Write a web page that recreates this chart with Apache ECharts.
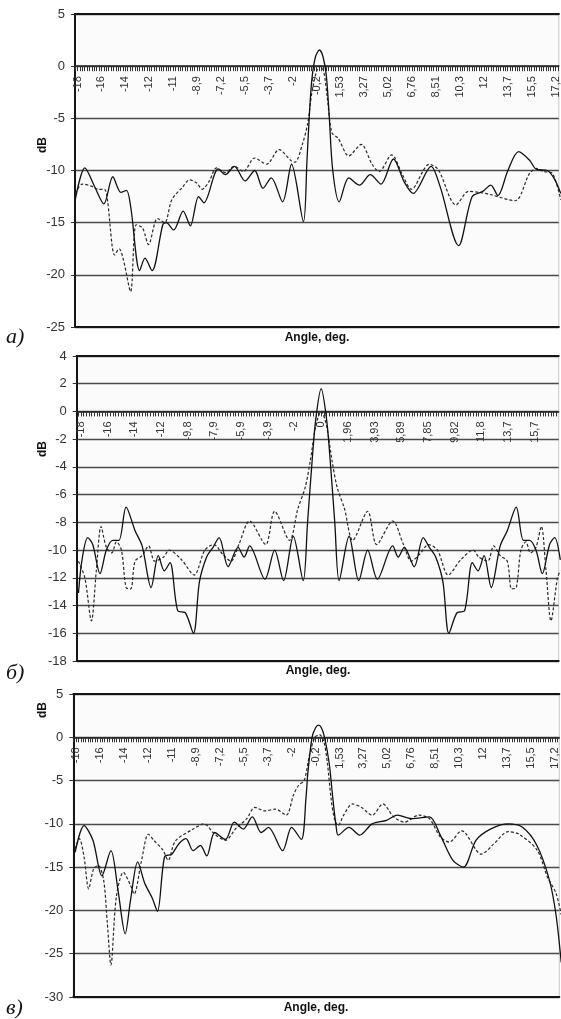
<!DOCTYPE html>
<html><head><meta charset="utf-8">
<script src="https://cdn.jsdelivr.net/npm/echarts@6/dist/echarts.min.js"></script>
<style>html,body{margin:0;padding:0;background:#fff;overflow:hidden}#c{width:561px;height:1019px}</style>
</head><body><div id="c"></div>
<script>
// ---- tick labels (angle positions, degrees) ----
const ticksAC = [-17.665,-15.92,-14.175,-12.43,-10.685,-8.94,-7.195,-5.45,-3.705,-1.96,-0.215,1.53,3.275,5.02,6.765,8.51,10.255,12.0,13.745,15.49,17.235];
const labelsAC = ["-18","-16","-14","-12","-11","-8,9","-7,2","-5,5","-3,7","-2","-0,2","1,53","3,27","5,02","6,76","8,51","10,3","12","13,7","15,5","17,2"];
const ticksB = [-17.667,-15.704,-13.741,-11.778,-9.815,-7.852,-5.889,-3.926,-1.963,0,1.963,3.926,5.889,7.852,9.815,11.778,13.741,15.704];
const labelsB = ["-18","-16","-14","-12","-9,8","-7,9","-5,9","-3,9","-2","0","1,96","3,93","5,89","7,85","9,82","11,8","13,7","15,7"];

// ---- panel а) : [angle deg, dB] ----
const aSolid = [[-17.83,-12.8],[-17.13,-9.75],[-16.4,-11.6],[-15.74,-13.2],[-15.09,-10.6],[-14.5,-12.1],[-14.09,-11.9],[-13.78,-13.5],[-13.13,-19.6],[-12.74,-18.4],[-12.22,-19.6],[-11.44,-15.2],[-11.18,-15.0],[-10.65,-15.7],[-9.95,-13.9],[-9.43,-15.3],[-8.83,-12.5],[-8.44,-13.1],[-7.39,-9.85],[-6.87,-10.4],[-6.21,-9.6],[-5.43,-11.0],[-4.73,-10.0],[-4.13,-11.7],[-3.52,-10.7],[-2.69,-13.0],[-2.04,-9.4],[-1.17,-14.9],[-0.91,-9.0],[-0.73,-4.5],[-0.55,-1.2],[-0.29,0.9],[0,1.55],[0.26,0.9],[0.5,-0.9],[0.7,-4.5],[0.97,-10],[1.44,-13],[2.14,-10.7],[2.92,-11.4],[3.71,-10.4],[4.49,-11.3],[5.40,-8.9],[6.19,-11.1],[6.84,-12.2],[8.15,-9.6],[8.80,-11.5],[10.16,-17.2],[11.15,-12.5],[11.93,-12.0],[12.51,-11.4],[13.03,-12.4],[13.76,-10.0],[14.54,-8.2],[15.33,-9.0],[15.85,-9.9],[16.63,-10.0],[17.15,-10.8],[17.62,-12.2]];
const aDash = [[-17.83,-12.2],[-17.31,-11.3],[-16.66,-11.5],[-16.14,-11.8],[-15.69,-11.8],[-14.96,-18.1],[-14.62,-17.5],[-14.31,-18.6],[-13.79,-21.6],[-13.39,-15.2],[-12.92,-15.5],[-12.48,-17.1],[-11.83,-14.6],[-11.31,-15.0],[-10.78,-12.8],[-10.0,-11.6],[-9.48,-10.9],[-8.96,-11.2],[-8.56,-11.8],[-8.04,-11.0],[-7.52,-9.75],[-6.87,-10.2],[-6.21,-9.6],[-5.56,-10.1],[-4.73,-8.8],[-3.86,-9.4],[-2.95,-8.0],[-2.04,-9.1],[-1.78,-9.2],[-1.25,-7.5],[-0.86,-5.5],[-0.55,-2.5],[-0.21,-0.5],[0.05,0],[0.31,-0.5],[0.57,-3],[0.91,-6.4],[1.36,-6.9],[2.14,-8.6],[3.05,-7.5],[3.84,-9.4],[4.36,-10.1],[5.27,-8.5],[6.06,-10.4],[6.71,-11.8],[8.02,-9.4],[8.67,-9.9],[9.97,-13.3],[10.89,-12.0],[11.67,-12.1],[12.45,-12.3],[14.28,-12.9],[15.33,-10.3],[15.85,-9.8],[16.37,-10.1],[17.02,-10.3],[17.62,-12.8]];

// ---- panel б) ----
const bSolid = [[-17.84,-13.1],[-17.58,-10.7],[-17.16,-9.1],[-16.79,-9.6],[-16.26,-11.7],[-15.79,-10.0],[-15.32,-9.3],[-14.87,-9.3],[-14.34,-6.9],[-13.68,-8.6],[-13.16,-9.7],[-12.5,-12.7],[-11.97,-10.4],[-11.53,-11.5],[-11.11,-10.9],[-10.53,-14.4],[-10.0,-14.5],[-9.39,-16.0],[-8.95,-12.3],[-8.42,-10.5],[-7.95,-9.8],[-7.5,-9.1],[-6.84,-11.2],[-6.11,-9.8],[-5.66,-10.5],[-5.26,-9.7],[-4.13,-12.1],[-3.42,-10.0],[-2.76,-12.2],[-2.05,-9.0],[-1.32,-12.2],[-1.0,-8.0],[-0.66,-3.5],[-0.39,-0.5],[0,1.65],[0.39,-0.5],[0.66,-3.5],[1.0,-8.0],[1.32,-12.2],[2.05,-9.0],[2.76,-12.2],[3.42,-10.0],[4.13,-12.1],[5.26,-9.7],[5.66,-10.5],[6.11,-9.8],[6.84,-11.2],[7.5,-9.1],[7.95,-9.8],[8.42,-10.5],[8.95,-12.3],[9.39,-16.0],[10.0,-14.5],[10.53,-14.4],[11.11,-10.9],[11.53,-11.5],[11.97,-10.4],[12.5,-12.7],[13.16,-9.7],[13.68,-8.6],[14.34,-6.9],[14.87,-9.3],[15.32,-9.3],[15.79,-10.0],[16.26,-11.7],[16.79,-9.6],[17.16,-9.1],[17.58,-10.7]];
const bDash = [[-17.84,-10.8],[-17.37,-12.0],[-16.89,-15.1],[-16.53,-11.5],[-16.18,-8.3],[-15.79,-9.8],[-15.39,-10.2],[-15.05,-9.4],[-14.68,-10.0],[-14.34,-12.7],[-14.0,-12.8],[-13.68,-10.8],[-13.16,-10.4],[-12.68,-9.7],[-12.24,-10.8],[-11.58,-10.5],[-11.18,-10.0],[-10.26,-10.7],[-9.34,-11.8],[-8.55,-10.0],[-7.89,-9.6],[-7.24,-10.3],[-6.63,-10.8],[-6.05,-9.6],[-5.26,-7.9],[-4.08,-9.6],[-3.42,-7.2],[-2.32,-9.3],[-1.71,-7.0],[-1.18,-5.5],[-0.79,-3.5],[-0.39,-1.0],[0,0.0],[0.39,-1.0],[0.79,-3.5],[1.18,-5.5],[1.71,-7.0],[2.32,-9.3],[3.42,-7.2],[4.08,-9.6],[5.26,-7.9],[6.05,-9.6],[6.63,-10.8],[7.24,-10.3],[7.89,-9.6],[8.55,-10.0],[9.34,-11.8],[10.26,-10.7],[11.18,-10.0],[11.58,-10.5],[12.24,-10.8],[12.68,-9.7],[13.16,-10.4],[13.68,-10.8],[14.0,-12.8],[14.34,-12.7],[14.68,-10.0],[15.05,-9.4],[15.39,-10.2],[15.79,-9.8],[16.18,-8.3],[16.53,-11.5],[16.89,-15.1],[17.37,-12.0],[17.58,-11.5]];

// ---- panel в) ----
const cSolid = [[-17.73,-13.3],[-17.08,-10.2],[-16.43,-11.9],[-15.78,-16.0],[-15.12,-13.1],[-14.6,-17.7],[-14.08,-22.7],[-13.69,-18.8],[-13.17,-14.4],[-12.65,-16.9],[-12.13,-18.5],[-11.73,-20.1],[-11.21,-13.8],[-10.69,-13.5],[-10.17,-12.3],[-9.65,-11.7],[-9.13,-13.1],[-8.6,-12.5],[-8.14,-13.7],[-7.56,-11.0],[-6.78,-11.8],[-6.13,-9.8],[-5.48,-10.6],[-4.82,-9.2],[-4.17,-11.0],[-3.65,-10.4],[-2.61,-13.1],[-1.96,-10.4],[-1.25,-11.8],[-0.91,-7],[-0.78,-4.2],[-0.47,0],[-0.21,1.1],[0,1.4],[0.21,1.1],[0.44,0],[0.78,-3],[1.04,-7],[1.3,-10.5],[1.43,-11.3],[2.22,-10.4],[3.0,-11.3],[3.91,-10.0],[4.95,-9.6],[5.74,-9.0],[6.78,-9.4],[8.08,-9.2],[8.87,-11.3],[9.78,-14.2],[10.56,-15.0],[11.47,-11.9],[12.52,-10.6],[13.82,-10.0],[14.86,-10.4],[15.91,-12.5],[16.82,-16.5],[17.3,-20.5],[17.68,-26]];
const cDash = [[-17.73,-12.9],[-17.42,-11.7],[-17.08,-13.8],[-16.74,-17.5],[-16.38,-15.2],[-16.04,-14.8],[-15.65,-16.5],[-15.38,-21.5],[-15.12,-26.3],[-14.73,-18.5],[-14.21,-15.6],[-13.69,-17.1],[-13.43,-18.1],[-12.91,-14.4],[-12.39,-11.2],[-11.99,-11.9],[-11.34,-13.0],[-10.95,-14.2],[-10.43,-12.0],[-9.13,-10.6],[-8.34,-10.0],[-7.56,-11.2],[-6.78,-11.9],[-6.0,-10.5],[-5.22,-9.4],[-4.64,-8.1],[-3.91,-8.5],[-3.13,-8.3],[-2.35,-9.0],[-1.83,-6.7],[-1.43,-5.5],[-1.04,-5.0],[-0.65,-2.0],[-0.26,0],[0.08,0.3],[0.39,-0.5],[0.65,-3],[0.91,-7],[1.17,-9.5],[1.43,-10.2],[1.83,-9.0],[2.48,-7.7],[3.13,-8.1],[3.91,-9.0],[4.69,-7.7],[5.48,-9.2],[6.26,-9.8],[7.3,-9.0],[8.08,-9.4],[8.87,-11.5],[9.52,-12.1],[10.43,-10.8],[11.86,-13.5],[12.78,-12.3],[13.82,-10.9],[14.6,-11.2],[15.91,-13],[16.69,-16.2],[17.3,-18],[17.68,-20.5]];

// ---- build chart ----
function minorTicks(t, lo, hi) {
  const step = (t[1] - t[0]) / 10, out = [];
  let v = t[0];
  while (v - step >= lo) v -= step;
  for (; v <= hi + 1e-9; v += step) out.push(+v.toFixed(4));
  return out;
}
function labelFor(ticks, labels) {
  return function (v) {
    let bi = 0, bd = Infinity;
    ticks.forEach((t, i) => { const d = Math.abs(t - v); if (d < bd) { bd = d; bi = i; } });
    return bd < 0.05 ? labels[bi] : '';
  };
}
const panels = [
  {top: 14, height: 313, left: 75, width: 484, xmin: -17.85, xmax: 17.48, ymin: -25, ymax: 5, yint: 5, ticks: ticksAC, labels: labelsAC, solid: aSolid, dash: aDash},
  {top: 356, height: 305, left: 76.7, width: 482, xmin: -17.97, xmax: 17.46, ymin: -18, ymax: 4, yint: 2, ticks: ticksB, labels: labelsB, solid: bSolid, dash: bDash},
  {top: 694, height: 303, left: 73.3, width: 486, xmin: -17.86, xmax: 17.54, ymin: -30, ymax: 5, yint: 5, ticks: ticksAC, labels: labelsAC, solid: cSolid, dash: cDash}
];
const FONT = 'Liberation Sans, Arial, sans-serif';
const frameAxis = (i, pos) => ({type: 'value', gridIndex: i, position: pos, min: 0, max: 1,
  axisLine: {show: true, onZero: false, lineStyle: {color: '#151515', width: 2}},
  axisTick: {show: false}, axisLabel: {show: false}, splitLine: {show: false}});
const option = {
  animation: false,
  backgroundColor: '#ffffff',
  grid: panels.map(p => ({left: p.left, top: p.top, width: p.width, height: p.height, show: true,
    backgroundColor: '#fbfbfb', borderColor: '#c8c8c8', borderWidth: 1, containLabel: false})),
  xAxis: [
    ...panels.map((p, i) => ({
      type: 'value', gridIndex: i, min: p.xmin, max: p.xmax, position: 'bottom',
      // the category axis crosses the value axis at 0 dB
      offset: -p.height * (0 - p.ymin) / (p.ymax - p.ymin),
      axisLine: {show: true, onZero: false, lineStyle: {color: '#222', width: 1.5}},
      axisTick: {show: true, inside: false, length: 5, customValues: minorTicks(p.ticks, p.xmin, p.xmax), lineStyle: {color: '#333', width: 1}},
      axisLabel: {show: true, rotate: 90, margin: 10, fontSize: 11, color: '#333', fontFamily: FONT,
        customValues: p.ticks, formatter: labelFor(p.ticks, p.labels)},
      splitLine: {show: false}
    })),
    ...panels.map((p, i) => frameAxis(i, 'top')),
    ...panels.map((p, i) => frameAxis(i, 'bottom'))
  ],
  yAxis: panels.map((p, i) => ({
    type: 'value', gridIndex: i, min: p.ymin, max: p.ymax, interval: p.yint,
    axisLine: {show: true, onZero: false, lineStyle: {color: '#151515', width: 2}},
    axisTick: {show: true, length: 4, lineStyle: {color: '#333'}},
    axisLabel: {margin: 10, fontSize: 13, color: '#333', fontFamily: FONT},
    splitLine: {show: true, lineStyle: {color: '#4a4a4a', width: 1.3}}
  })),
  series: panels.flatMap((p, i) => [
    {type: 'line', xAxisIndex: i, yAxisIndex: i, data: p.dash, smooth: 0.3, symbol: 'none', clip: true,
      lineStyle: {color: '#2a2a2a', width: 1.2, type: [3, 2]}},
    {type: 'line', xAxisIndex: i, yAxisIndex: i, data: p.solid, smooth: 0.3, symbol: 'none', clip: true,
      lineStyle: {color: '#111', width: 1.3}}
  ]),
  graphic: [
    ...[145, 449, 710].map(y => ({type: 'text', x: 43, y: y, rotation: Math.PI / 2,
      style: {text: 'dB', font: 'bold 12px ' + FONT, fill: '#111', align: 'center', verticalAlign: 'middle'}})),
    ...[[317, 338], [318, 671], [316, 1008]].map(([x, y]) => ({type: 'text', x: x, y: y,
      style: {text: 'Angle, deg.', font: 'bold 12px ' + FONT, fill: '#111', align: 'center', verticalAlign: 'middle'}})),
    ...[['а)', 337], ['б)', 673], ['в)', 1008]].map(([t, y]) => ({type: 'text', x: 6, y: y,
      style: {text: t, font: 'italic 22px "Liberation Serif", "DejaVu Serif", serif', fill: '#111', align: 'left', verticalAlign: 'middle'}}))
  ]
};
const chart = echarts.init(document.getElementById('c'), null, {renderer: 'canvas'});
chart.setOption(option);
</script>
</body></html>
